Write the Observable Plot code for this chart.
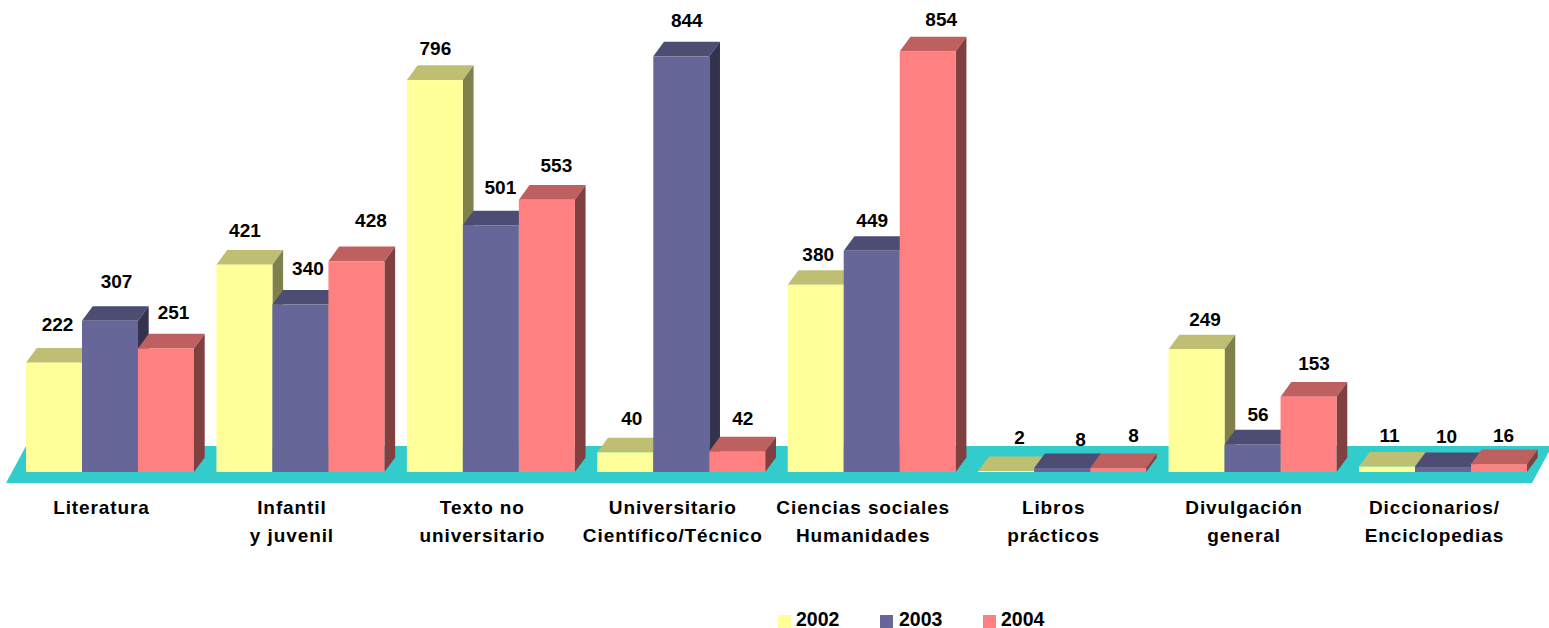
<!DOCTYPE html>
<html>
<head>
<meta charset="utf-8">
<script src="https://cdn.jsdelivr.net/npm/d3@7"></script>
<script src="https://cdn.jsdelivr.net/npm/@observablehq/plot@0.6"></script>
<style>
html, body { margin: 0; padding: 0; background: #fff; overflow: hidden; }
svg { display: block; }
g[aria-label="fx-axis tick label"] { letter-spacing: 0.9px; }
#legend { position: relative; height: 22px; font: bold 19.5px "Liberation Sans", Arial, sans-serif; color: #000; }
#legend i { position: absolute; top: 9px; width: 13px; height: 13px; }
#legend span { position: absolute; top: 2px; line-height: 22px; }
</style>
</head>
<body>
<div id="chart"></div>
<div id="legend"></div>
<script>
const categories = ["Literatura", "Infantil\ny juvenil", "Texto no\nuniversitario", "Universitario\nCientífico/Técnico", "Ciencias sociales\nHumanidades", "Libros\nprácticos", "Divulgación\ngeneral", "Diccionarios/\nEnciclopedias"];
const years = ["2002", "2003", "2004"];
const values2002 = [222, 421, 796, 40, 380, 2, 249, 11];
const values2003 = [307, 340, 501, 844, 449, 8, 56, 10];
const values2004 = [251, 428, 553, 42, 854, 8, 153, 16];
const colors = ["#FFFF99", "#666699", "#FF8080"];

// Hand placement of the value labels, as in the original (pixels relative to the default spot)
const labelShiftX = [[3, 0, 0, 6, 2, 13, 8, 2], [6, 7, 9, 5, 0, 18, 5, 3], [7, 14, 9, 5, 13, 15, 5, 4]];
const labelShiftY = [[-6, -2, 0, -2, 2, -2, 2, 1], [-7, -4, -6, -4, 2, 3, 2, 1], [-4, -9, -2, -1, 0, -1, -1, 3]];

const rows = [values2002, values2003, values2004].flatMap((vals, s) =>
  vals.map((value, c) => ({category: categories[c], year: years[s], value, s, c})));

const depthX = 10.7, depthY = 14.6;

function extrude(index, scales, values, dims, ctx, next) {
  const g = next(index, scales, values, dims, ctx);
  for (const rect of Array.from(g.querySelectorAll("rect"))) {
    const x = +rect.getAttribute("x"), y = +rect.getAttribute("y");
    const w = +rect.getAttribute("width"), h = +rect.getAttribute("height");
    const base = d3.rgb(rect.getAttribute("fill"));
    const face = (pts, k) => {
      const p = document.createElementNS("http://www.w3.org/2000/svg", "polygon");
      p.setAttribute("points", pts.map(q => q.join(",")).join(" "));
      p.setAttribute("fill", d3.rgb(base.r * k, base.g * k, base.b * k).formatHex());
      g.insertBefore(p, rect);
    };
    face([[x, y], [x + depthX, y - depthY], [x + w + depthX, y - depthY], [x + w, y]], 0.75);
    face([[x + w, y], [x + w + depthX, y - depthY], [x + w + depthX, y + h - depthY], [x + w, y + h]], 0.5);
  }
  return g;
}

function floor(index, scales, values, dims) {
  const y0 = scales.y(0);
  const p = document.createElementNS("http://www.w3.org/2000/svg", "polygon");
  const front = y0 + 11, back = y0 - 26;
  p.setAttribute("points", [[6, front], [1532, front], [1552, back], [26, back]].map(q => q.join(",")).join(" "));
  p.setAttribute("fill", "#33CCCC");
  const g = document.createElementNS("http://www.w3.org/2000/svg", "g");
  g.appendChild(p);
  return g;
}

function nudgeLabels(index, scales, values, dims, ctx, next) {
  const g = next(index, scales, values, dims, ctx);
  d3.select(g).selectAll("text").each(function(i) {
    const r = rows[i];
    this.setAttribute("dx", labelShiftX[r.s][r.c]);
    this.setAttribute("dy", labelShiftY[r.s][r.c]);
  });
  return g;
}

const chart = Plot.plot({
  width: 1549,
  height: 606,
  marginLeft: 26,
  marginRight: 22,
  marginTop: 51.4,
  marginBottom: 134,
  style: {fontFamily: "'Liberation Sans', Arial, sans-serif", background: "#fff", overflow: "visible"},
  fx: {domain: categories, paddingInner: 0.1178, paddingOuter: 0, round: false, label: null},
  x: {domain: years, padding: 0, round: false, axis: null},
  y: {domain: [0, 854], axis: null},
  color: {domain: years, range: colors},
  marks: [
    Plot.frame({facet: "super", render: floor}),
    Plot.barY(rows, {fx: "category", x: "year", y: "value", fill: "year", inset: 0, render: extrude}),
    Plot.text(rows, {
      fx: "category", x: "year", y: "value", text: d => String(d.value),
      dy: -32, fontSize: 19, fontWeight: "bold", fill: "#000", render: nudgeLabels
    }),
    Plot.axisFx({
      anchor: "bottom", tickSize: 0, tickPadding: 22, dx: -9, label: null, lineHeight: 1.47,
      fontSize: 19, fontWeight: "bold", fill: "#000"
    })
  ]
});
document.getElementById("chart").appendChild(chart);

const legendX = [[778, 796], [880, 899], [983, 1001]];
const legend = document.getElementById("legend");
years.forEach((yr, i) => {
  const sw = document.createElement("i");
  sw.style.left = legendX[i][0] + "px";
  sw.style.background = colors[i];
  const t = document.createElement("span");
  t.style.left = legendX[i][1] + "px";
  t.textContent = yr;
  legend.append(sw, t);
});
</script>
</body>
</html>
